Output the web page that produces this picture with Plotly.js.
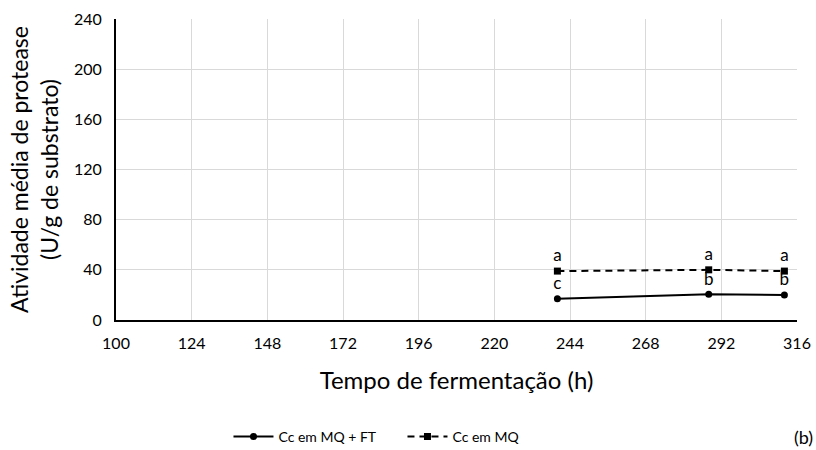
<!DOCTYPE html>
<html><head><meta charset="utf-8">
<script src="https://cdn.plot.ly/plotly-3.0.1.min.js"></script>
<style>body{margin:0;background:#fff}#c{width:816px;height:450px}</style>
</head><body><div id="c"></div>
<script>
const hours = [240, 288, 312];
const ccMqFt = [17, 20.5, 20];
const ccMq = [39, 40, 39];
const lettersFt = ['c', 'b', 'b'];
const lettersMq = ['a', 'a', 'a'];
const xTicks = [100, 124, 148, 172, 196, 220, 244, 268, 292, 316];
const yTicks = [0, 40, 80, 120, 160, 200, 240];

const font = 'Lato, "Open Sans", sans-serif';
const traces = [
  {x: hours, y: ccMqFt, name: 'Cc em MQ + FT', mode: 'lines+markers+text',
   text: lettersFt, textposition: 'top center', textfont: {size: 17, color: '#000', family: font},
   line: {color: '#000', width: 2}, marker: {symbol: 'circle', size: 7, color: '#000'}},
  {x: hours, y: ccMq, name: 'Cc em MQ', mode: 'lines+markers+text',
   text: lettersMq, textposition: 'top center', textfont: {size: 17, color: '#000', family: font},
   line: {color: '#000', width: 2, dash: '7px,5px'}, marker: {symbol: 'square', size: 7, color: '#000'}}
];
const layout = {
  width: 816, height: 450,
  margin: {l: 116, r: 19, t: 19, b: 130},
  paper_bgcolor: '#fff', plot_bgcolor: '#fff',
  font: {family: font, color: '#000', size: 16},
  showlegend: true,
  legend: {orientation: 'h', xref: 'container', yref: 'container', x: 0.28, xanchor: 'left', y: 0.029, yanchor: 'middle',
           font: {size: 14}, entrywidth: 119, entrywidthmode: 'pixels', itemwidth: 40},
  xaxis: {range: [100, 316], tickvals: xTicks, ticktext: xTicks.map(String), showgrid: true, gridcolor: '#d9d9d9',
          showline: true, linecolor: '#000', linewidth: 2, zeroline: false, ticks: '', ticklabelstandoff: 8,
          tickfont: {size: 16}, title: {text: 'Tempo de fermentação (h)', font: {size: 24}, standoff: 21}},
  yaxis: {range: [0, 240], tickvals: yTicks, ticktext: yTicks.map(String), showgrid: true, gridcolor: '#d9d9d9',
          showline: true, linecolor: '#000', linewidth: 2, zeroline: false, ticks: '', ticklabelstandoff: 9,
          tickfont: {size: 16}, title: {text: 'Atividade média de protease<br>(U/g de substrato)', font: {size: 23}, standoff: 9}},
  annotations: [{text: '(b)', xref: 'paper', yref: 'paper', x: 1.027, y: -0.389, xanchor: 'right', yanchor: 'middle',
                 showarrow: false, font: {size: 18}}]
};
Plotly.newPlot('c', traces, layout, {displayModeBar: false});
</script></body></html>
